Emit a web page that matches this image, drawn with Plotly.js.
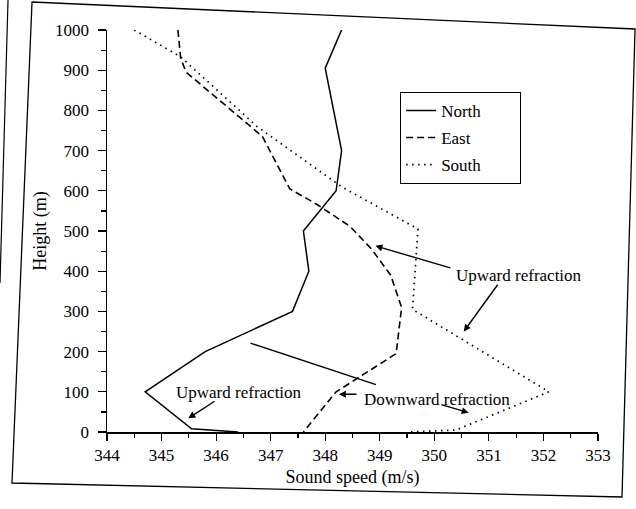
<!DOCTYPE html>
<html>
<head>
<meta charset="utf-8">
<script src="https://cdn.plot.ly/plotly-3.0.1.min.js"></script>
<style>html,body{margin:0;padding:0;background:#fff;}#chart{width:636px;height:509px;}</style>
</head>
<body>
<div id="chart"></div>
<script>
// ---- data ----
const northSpeed  = [348.3, 348.0, 348.3, 348.2, 347.6, 347.7, 347.4, 345.8, 344.7, 345.55, 346.4];
const northHeight = [1000, 905, 700, 600, 500, 400, 300, 200, 100, 8, 0];

const eastSpeed  = [345.3, 345.35, 345.45, 346.85, 347.35, 347.85, 348.45, 348.85, 349.2, 349.4, 349.3, 348.2, 347.6];
const eastHeight = [1000, 930, 895, 735, 605, 566, 512, 455, 390, 310, 195, 100, 0];

const southSpeed  = [344.5, 345.35, 346.75, 348.3, 349.7, 349.6, 352.1, 350.4, 349.5];
const southHeight = [1000, 933, 760, 610, 505, 305, 100, 5, 0];

const seriesNames = ['North', 'East', 'South'];

const xTicks = [344, 345, 346, 347, 348, 349, 350, 351, 352, 353];
const yTicks = [0, 100, 200, 300, 400, 500, 600, 700, 800, 900, 1000];

// annotation labels
const labelText = ['Upward refraction', 'Upward refraction', 'Downward refraction'];
const labelX = [351.55, 346.42, 350.04];
const labelY = [390, 99, 82];

// arrows (tail -> head)
const arrowTailX = [350.32, 351.18, 346.0, 348.6, 350.1];
const arrowTailY = [407, 370, 79, 94, 69];
const arrowHeadX = [348.92, 350.54, 345.49, 348.25, 350.63];
const arrowHeadY = [463, 250, 34, 94, 48];

// plain pointer line
const pointerX = [346.63, 348.93];
const pointerY = [221, 118];

const serif = 'Liberation Serif, Times New Roman, serif';
const pad = '\u00a0\u00a0\u00a0\u00a0\u00a0\u00a0\u00a0\u00a0';

const traces = [
  {x: northSpeed, y: northHeight, name: seriesNames[0] + pad, mode: 'lines', legendgroup: 'n',
   line: {color: '#000', width: 1.5}},
  {x: eastSpeed, y: eastHeight, name: seriesNames[1] + pad, mode: 'lines', legendgroup: 'e',
   line: {color: '#000', width: 1.6, dash: '7px,4px'}},
  {x: southSpeed, y: southHeight, name: seriesNames[2] + pad, mode: 'lines', legendgroup: 's',
   line: {color: '#000', width: 1.7, dash: '1.5px,4.5px'}},
  {x: pointerX, y: pointerY, mode: 'lines', showlegend: false, hoverinfo: 'skip',
   line: {color: '#000', width: 1.4}}
];

const annotations = [];
for (let i = 0; i < labelText.length; i++) {
  annotations.push({x: labelX[i], y: labelY[i], xref: 'x', yref: 'y', text: labelText[i],
    showarrow: false, font: {family: serif, size: 17, color: '#000'}});
}
for (let i = 0; i < arrowTailX.length; i++) {
  annotations.push({x: arrowHeadX[i], y: arrowHeadY[i], ax: arrowTailX[i], ay: arrowTailY[i],
    xref: 'x', yref: 'y', axref: 'x', ayref: 'y', text: '', showarrow: true,
    arrowhead: 2, arrowsize: 1, arrowwidth: 1.4, arrowcolor: '#000', standoff: 0, startstandoff: 0});
}
annotations.push({x: -0.1914, y: -0.183, xref: 'paper', yref: 'paper', xanchor: 'left', yanchor: 'top',
  text: 'Figure A.1 S', showarrow: false, font: {family: serif, size: 20, color: '#000'}});

const layout = {
  width: 636, height: 509,
  margin: {l: 107, r: 38, t: 30, b: 77},
  paper_bgcolor: '#fff', plot_bgcolor: '#fff',
  font: {family: serif, color: '#000'},
  showlegend: true,
  legend: {x: 0.597, y: 0.846, xanchor: 'left', yanchor: 'top',
    bordercolor: '#000', borderwidth: 1, bgcolor: '#fff',
    font: {family: serif, size: 17, color: '#000'},
    traceorder: 'grouped', tracegroupgap: 2},
  xaxis: {range: [344, 353], tickvals: xTicks, ticktext: xTicks.map(String),
    ticks: 'outside', ticklen: 7, tickwidth: 1.2, tickcolor: '#000',
    showline: true, linecolor: '#000', linewidth: 1.5, showgrid: false, zeroline: false,
    tickfont: {family: serif, size: 17, color: '#000'},
    minor: {dtick: 0.5, tick0: 344, ticks: 'outside', ticklen: 4, tickcolor: '#000', tickwidth: 1.2, showgrid: false},
    title: {text: 'Sound speed (m/s)', font: {family: serif, size: 18, color: '#000'}, standoff: 6}},
  yaxis: {range: [0, 1000], tickvals: yTicks, ticktext: yTicks.map(String),
    ticks: 'outside', ticklen: 8, tickwidth: 1.2, tickcolor: '#000',
    showline: true, linecolor: '#000', linewidth: 1.5, showgrid: false, zeroline: false,
    ticklabelstandoff: 5,
    tickfont: {family: serif, size: 17, color: '#000'},
    minor: {dtick: 50, tick0: 0, ticks: 'outside', ticklen: 5, tickcolor: '#000', tickwidth: 1.2, showgrid: false},
    title: {text: 'Height (m)', font: {family: serif, size: 18, color: '#000'}, standoff: 4}},
  annotations: annotations,
  shapes: [
    {type: 'path', xref: 'paper', yref: 'paper',
     path: 'M -0.1527,1.0697 L 1.0754,1.0025 L 1.0489,-0.1617 L -0.1935,-0.1269 Z',
     line: {color: '#000', width: 1.3}},
    {type: 'path', xref: 'paper', yref: 'paper',
     path: 'M -0.2016,1.0746 L -0.2179,0.3706',
     line: {color: '#000', width: 1.2}}
  ]
};

Plotly.newPlot('chart', traces, layout, {staticPlot: true, displayModeBar: false});
</script>
</body>
</html>
